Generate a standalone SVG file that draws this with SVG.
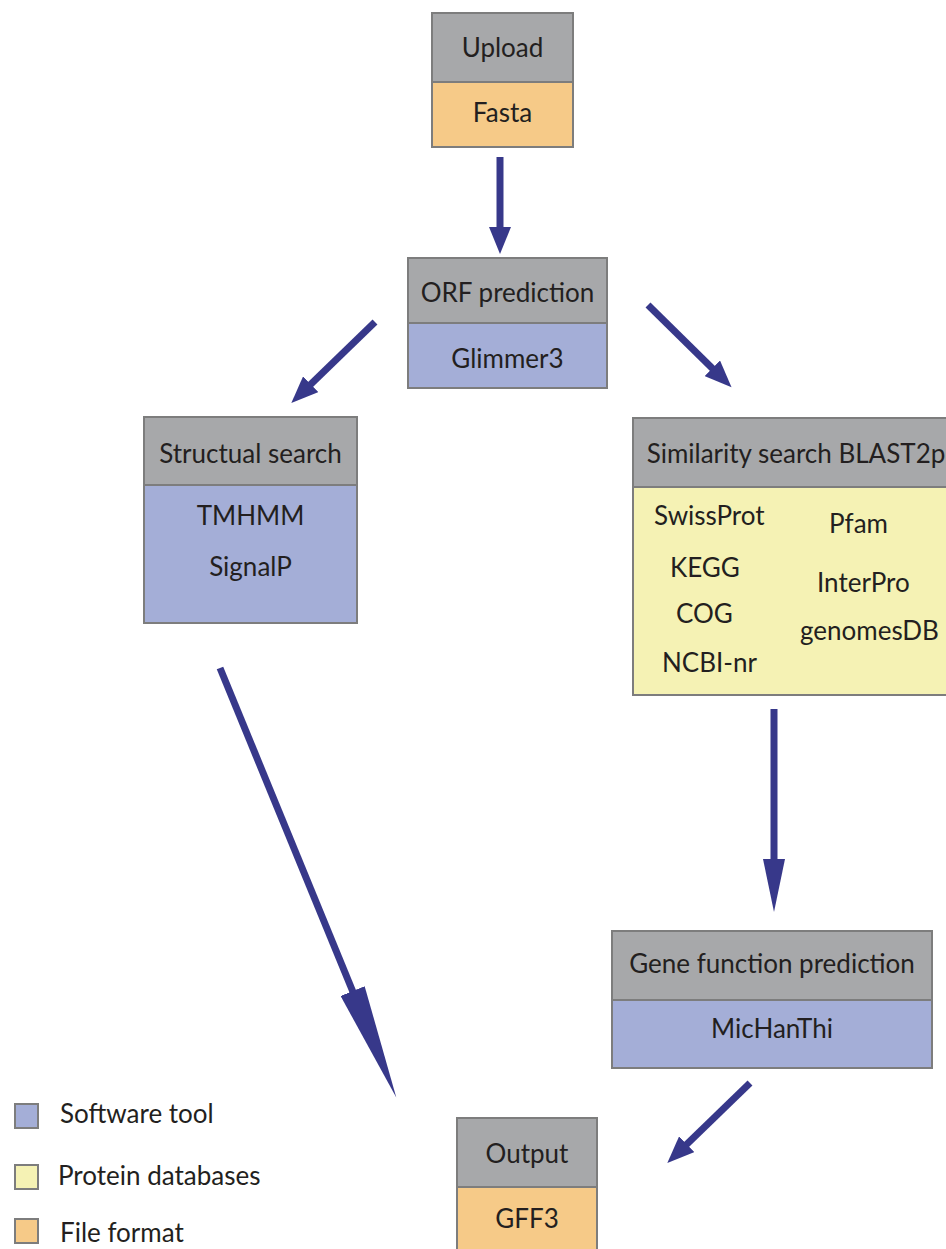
<svg xmlns="http://www.w3.org/2000/svg" width="946" height="1249" viewBox="0 0 946 1249">
<style>
.hdr{fill:#a7a8aa;stroke:#7d7d7d;stroke-width:2}
.sw{fill:#a4aed7;stroke:#7d7d7d;stroke-width:2}
.ff{fill:#f6ca88;stroke:#7d7d7d;stroke-width:2}
.db{fill:#f5f2b4;stroke:#7d7d7d;stroke-width:2}
text{font-family:Lato,"Liberation Sans",sans-serif;font-size:26px;fill:#231f20}
.c{text-anchor:middle}
.arr{stroke:#37388a;stroke-width:7;fill:none}
</style>
<defs>
<marker id="h" markerUnits="userSpaceOnUse" markerWidth="30" markerHeight="22" refX="1" refY="11" orient="auto">
<path d="M0,0 L27,11 L0,22 Z" fill="#37388a"/>
</marker>
<marker id="hv" markerUnits="userSpaceOnUse" markerWidth="56" markerHeight="22" refX="1" refY="11" orient="auto">
<path d="M0,0 L53,11 L0,22 Z" fill="#37388a"/>
</marker>
<marker id="hl" markerUnits="userSpaceOnUse" markerWidth="118" markerHeight="26" refX="1" refY="13" orient="auto">
<path d="M0,0 L115,13 L0,26 Z" fill="#37388a"/>
</marker>
</defs>
<g id="connectors">
<line class="arr" x1="500" y1="157" x2="500" y2="228" marker-end="url(#h)"/>
<line class="arr" x1="375" y1="322" x2="310" y2="385" marker-end="url(#h)"/>
<line class="arr" x1="648" y1="305" x2="713" y2="369" marker-end="url(#h)"/>
<line class="arr" x1="220" y1="668" x2="353" y2="992" marker-end="url(#hl)"/>
<line class="arr" x1="774" y1="709" x2="774" y2="860" marker-end="url(#hv)"/>
<line class="arr" x1="750" y1="1083" x2="686" y2="1145" marker-end="url(#h)"/>
</g>
<g id="upload">
<rect class="hdr" x="432" y="13" width="141" height="69"/>
<rect class="ff" x="432" y="82" width="141" height="65"/>
<text class="c" x="502.5" y="57">Upload</text>
<text class="c" x="502.5" y="122">Fasta</text>
</g>
<g id="orf">
<rect class="hdr" x="408" y="258" width="199" height="65"/>
<rect class="sw" x="408" y="323" width="199" height="65"/>
<text class="c" x="507.5" y="302">ORF prediction</text>
<text class="c" x="507.5" y="368">Glimmer3</text>
</g>
<g id="structural">
<rect class="hdr" x="144" y="417" width="213" height="68"/>
<rect class="sw" x="144" y="485" width="213" height="138"/>
<text class="c" x="250.5" y="463">Structual search</text>
<text class="c" x="250.5" y="525">TMHMM</text>
<text class="c" x="250.5" y="576">SignalP</text>
</g>
<g id="similarity">
<rect class="hdr" x="633" y="418" width="316" height="69"/>
<rect class="db" x="633" y="487" width="316" height="208"/>
<text class="c" x="796" y="463">Similarity search BLAST2p</text>
<text x="654" y="525">SwissProt</text>
<text x="829" y="533">Pfam</text>
<text x="670" y="577">KEGG</text>
<text x="817" y="592">InterPro</text>
<text x="676" y="623">COG</text>
<text x="800" y="640">genomesDB</text>
<text x="662" y="672">NCBI-nr</text>
</g>
<g id="genefunction">
<rect class="hdr" x="612" y="931" width="320" height="69"/>
<rect class="sw" x="612" y="1000" width="320" height="68"/>
<text class="c" x="772" y="973">Gene function prediction</text>
<text class="c" x="772" y="1038">MicHanThi</text>
</g>
<g id="output">
<rect class="hdr" x="457" y="1118" width="140" height="69"/>
<rect class="ff" x="457" y="1187" width="140" height="70"/>
<text class="c" x="527" y="1163">Output</text>
<text class="c" x="527" y="1228">GFF3</text>
</g>
<g id="legend">
<rect class="sw" x="15" y="1104" width="23" height="24"/>
<text x="60" y="1123">Software tool</text>
<rect class="db" x="15" y="1165" width="23" height="24"/>
<text x="58" y="1185">Protein databases</text>
<rect class="ff" x="15" y="1219" width="23" height="24"/>
<text x="60" y="1242">File format</text>
</g>
</svg>
